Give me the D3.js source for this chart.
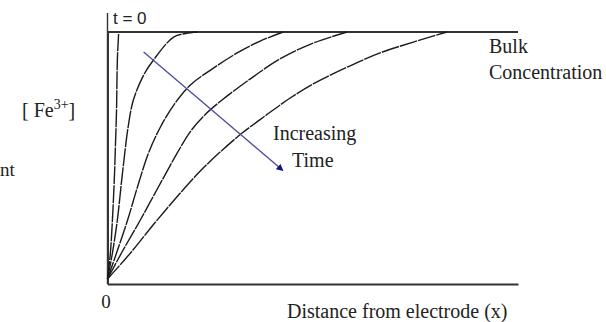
<!DOCTYPE html>
<html>
<head>
<meta charset="utf-8">
<script src="https://cdn.jsdelivr.net/npm/d3@7"></script>
<style>
  html, body { margin: 0; padding: 0; background: #fff; overflow: hidden; }
  svg { display: block; }
</style>
</head>
<body>
<svg id="chart" width="606" height="322"></svg>
<script>
// Concentration profiles of Fe3+ versus distance from the electrode,
// one per time step (distance and concentration both in % of full scale).
const profileNames = ["t1", "t2", "t3", "t4", "t5"];
const profileX = [
  [0, 0.7, 1.2, 1.7, 1.9, 2.2, 2.4, 2.7],
  [0, 1.2, 2.4, 3.6, 5.1, 6.3, 8.8, 11.2, 16.1, 19.0, 21.9],
  [0, 2.2, 4.9, 7.3, 10.0, 12.9, 16.3, 20.2, 25.1, 31.6, 37.2, 42.8],
  [0, 3.4, 8.0, 12.4, 17.0, 20.1, 23.7, 27.9, 34.7, 42.0, 50.1, 58.4],
  [0, 5.6, 11.7, 17.3, 22.6, 28.0, 32.8, 38.4, 44.5, 50.1, 58.4, 66.4, 74.5, 82.7]
];
const profileC = [
  [2.0, 12.3, 25.4, 43.3, 53.2, 69.0, 88.9, 99.2],
  [2.0, 12.3, 25.4, 43.3, 63.1, 73.0, 82.9, 88.9, 98.0, 99.4, 100],
  [2.0, 12.3, 25.4, 38.5, 52.0, 62.3, 71.4, 79.0, 84.9, 91.7, 96.4, 100],
  [2.0, 12.3, 25.4, 38.5, 52.0, 60.3, 67.1, 73.0, 81.3, 89.3, 95.6, 100],
  [2.0, 12.3, 24.6, 35.3, 44.8, 53.2, 59.9, 66.7, 73.8, 79.4, 86.1, 91.7, 96.0, 100]
];
// Bulk concentration level and the t = 0 profile (a step at the electrode)
const bulkLevel = 100;
const t0Top = 107.5;
// "Increasing time" arrow: start and end in data units
const arrowX = [8.8, 42.6];
const arrowC = [92.1, 45.2];
const xTicks = [0];

const SERIF = '"Liberation Serif", "Times New Roman", serif';
const SANS = '"Liberation Sans", Arial, sans-serif';
const INK = "#222";

const svg = d3.select("#chart");
const x = d3.scaleLinear().domain([0, 100]).range([107.5, 518]);
const y = d3.scaleLinear().domain([0, 100]).range([284, 32]);

const defs = svg.append("defs");
defs.append("marker")
  .attr("id", "arrowhead")
  .attr("viewBox", "0 0 10 10")
  .attr("refX", 8).attr("refY", 5)
  .attr("markerWidth", 7).attr("markerHeight", 7)
  .attr("markerUnits", "userSpaceOnUse")
  .attr("orient", "auto")
  .append("path")
  .attr("d", "M0,0 L10,5 L0,10 Z")
  .attr("fill", "#14147a");

// Bulk concentration line along the top
svg.append("line")
  .attr("x1", x(0)).attr("x2", x(100))
  .attr("y1", y(bulkLevel)).attr("y2", y(bulkLevel))
  .attr("stroke", "#333").attr("stroke-width", 1.8);

// t = 0 step profile rising above the bulk line
svg.append("line")
  .attr("x1", x(0)).attr("x2", x(0))
  .attr("y1", y(0)).attr("y2", y(t0Top))
  .attr("stroke", "#333").attr("stroke-width", 1.4);

// Axes: bare lines, only the origin labelled
const xAxis = svg.append("g")
  .attr("transform", `translate(0,${y(0)})`)
  .call(d3.axisBottom(x).tickValues(xTicks).tickSize(0).tickSizeOuter(0).tickPadding(10.5).tickFormat(d3.format("d")));
xAxis.select(".domain").attr("stroke", "#333").attr("stroke-width", 2);
xAxis.selectAll("text")
  .style("font-family", SERIF)
  .style("font-size", "19px")
  .attr("fill", INK)
  .attr("dx", -2);

const yAxis = svg.append("g")
  .attr("transform", `translate(${x(0)},0)`)
  .call(d3.axisLeft(y).tickValues([]).tickSizeOuter(0));
yAxis.select(".domain").attr("stroke", "#333").attr("stroke-width", 2);

// Concentration profiles
const line = d3.line()
  .x(d => x(d[0]))
  .y(d => y(d[1]))
  .curve(d3.curveCatmullRom.alpha(0.5));

svg.append("g").selectAll("path")
  .data(profileNames.map((n, i) => profileX[i].map((v, j) => [v, profileC[i][j]])))
  .join("path")
  .attr("d", line)
  .attr("fill", "none")
  .attr("stroke", "#1a1a1a")
  .attr("stroke-width", 1.4)
  .attr("stroke-dasharray", "18,1");

// Increasing time arrow
svg.append("line")
  .attr("x1", x(arrowX[0])).attr("y1", y(arrowC[0]))
  .attr("x2", x(arrowX[1])).attr("y2", y(arrowC[1]))
  .attr("stroke", "#4b4ba0").attr("stroke-width", 1.3)
  .attr("marker-end", "url(#arrowhead)");

// Labels
function label(px, py, size, family, txt) {
  return svg.append("text")
    .attr("x", px).attr("y", py)
    .attr("fill", INK)
    .style("font-family", family)
    .style("font-size", size + "px")
    .text(txt);
}

label(113, 24, 17, SANS, "t = 0");

const fe = label(22, 117, 20, SERIF, "");
fe.append("tspan").text("[ Fe");
fe.append("tspan").style("font-size", "14px").attr("dy", -8).text("3+");
fe.append("tspan").attr("dy", 8).text("]");

label(0, 176, 19, SERIF, "nt");

label(489, 53, 20, SERIF, "Bulk");
label(489, 79, 20, SERIF, "Concentration");

label(273, 140, 20, SERIF, "Increasing");
label(292, 167, 20, SERIF, "Time");

label(287, 318, 20, SERIF, "Distance from electrode (x)");
</script>
</body>
</html>
